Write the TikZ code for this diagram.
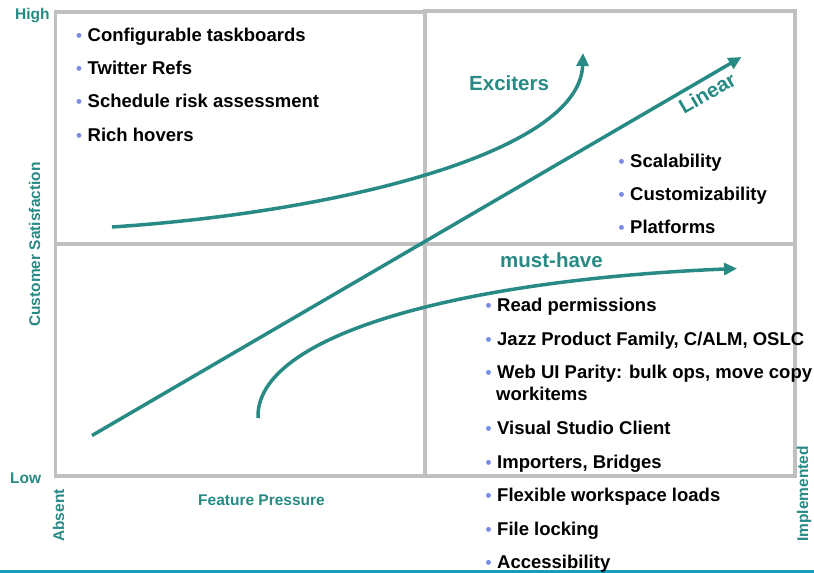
\documentclass[tikz,border=0pt]{standalone}
\usepackage{fontspec}
\setmainfont{Liberation Sans}
\usetikzlibrary{arrows.meta}
\definecolor{tealc}{RGB}{40,138,133}
\definecolor{gridgray}{RGB}{192,192,192}
\definecolor{bulcol}{RGB}{120,140,230}
\definecolor{rulecol}{RGB}{20,158,184}
\newcommand{\bulmark}{\makebox[11.5pt][l]{\fontsize{17}{17}\selectfont\color{bulcol}\raisebox{0pt}{\textbullet}}}
\begin{document}
\begin{tikzpicture}[x=1pt,y=-1pt,
  quad/.style={draw=gridgray,line width=3.5pt},
  item/.style={anchor=base west,inner sep=0pt,font=\fontsize{18.5}{22}\selectfont\bfseries},
  axislbl/.style={anchor=base west,text=tealc,font=\fontsize{15.5}{18}\selectfont\bfseries,inner sep=0pt},
  curvelbl/.style={anchor=base west,text=tealc,font=\fontsize{20.5}{24}\selectfont\bfseries,inner sep=0pt},
  curve/.style={draw=tealc,line width=3.5pt,-{Triangle[length=13pt,width=12pt]}}
]
\useasboundingbox (0,0) rectangle (814,573);
\fill[white] (0,0) rectangle (814,573);

% quadrants
\draw[quad] (55.5,12) rectangle (425,244);
\draw[quad] (425,11) rectangle (795,244);
\draw[quad] (55.5,244) rectangle (425,476);
\draw[quad] (425,244) rectangle (795,476);

% bottom rule
\coordinate (ruleL) at (0,571.5);
\coordinate (ruleR) at (814,571.5);
\draw[rulecol,line width=3pt] (ruleL) -- (ruleR);

% curves
\coordinate (exS) at (112,227);
\coordinate (exE) at (583,53);
\draw[curve] (exS) .. controls (340,212) and (580,152) .. (exE);
\coordinate (linS) at (92,435.5);
\coordinate (linE) at (741.5,57);
\draw[curve] (linS) -- (linE);
\coordinate (mhS) at (258,418);
\coordinate (mhE) at (737,268.5);
\draw[curve] (mhS) .. controls (255,335) and (460,280) .. (mhE);

% curve labels
\node[curvelbl] (lblEx) at (469,90) {Exciters};
\node[curvelbl] (lblMh) at (500,267) {must-have};
\node[curvelbl,rotate=30] (lblLin) at (684,115) {Linear};

% axis labels
\node[axislbl] (high) at (15,19.3) {High};
\node[axislbl] (low) at (10,483) {Low};
\node[axislbl] (fp) at (198,505) {Feature Pressure};
\node[axislbl,rotate=90] (cs) at (40,327) {Customer Satisfaction};
\node[axislbl,rotate=90] (absent) at (64,542) {Absent};
\node[axislbl,rotate=90] (impl) at (808,542) {Implemented};

% top-left items
\node[item] (tl1) at (76,41) {\bulmark Configurable taskboards};
\node[item] (tl2) at (76,74.3) {\bulmark Twitter Refs};
\node[item] (tl3) at (76,107.7) {\bulmark Schedule risk assessment};
\node[item] (tl4) at (76,141) {\bulmark Rich hovers};

% top-right items
\node[item] (tr1) at (618.5,167.3) {\bulmark Scalability};
\node[item] (tr2) at (618.5,200.7) {\bulmark Customizability};
\node[item] (tr3) at (618.5,233.3) {\bulmark Platforms};

% bottom-right items
\node[item] (br1) at (485.5,311) {\bulmark Read permissions};
\node[item] (br2) at (485.5,345) {\bulmark Jazz Product Family, C/ALM, OSLC};
\node[item] (br3) at (485.5,378.3) {\bulmark Web UI Parity: bulk ops, move copy};
\node[item] (br3b) at (496,400.7) {workitems};
\node[item] (br4) at (485.5,434) {\bulmark Visual Studio Client};
\node[item] (br5) at (485.5,468.3) {\bulmark Importers, Bridges};
\node[item] (br6) at (485.5,501.7) {\bulmark Flexible workspace loads};
\node[item] (br7) at (485.5,535) {\bulmark File locking};
\node[item] (br8) at (485.5,568.3) {\bulmark Accessibility};
\end{tikzpicture}
\end{document}
